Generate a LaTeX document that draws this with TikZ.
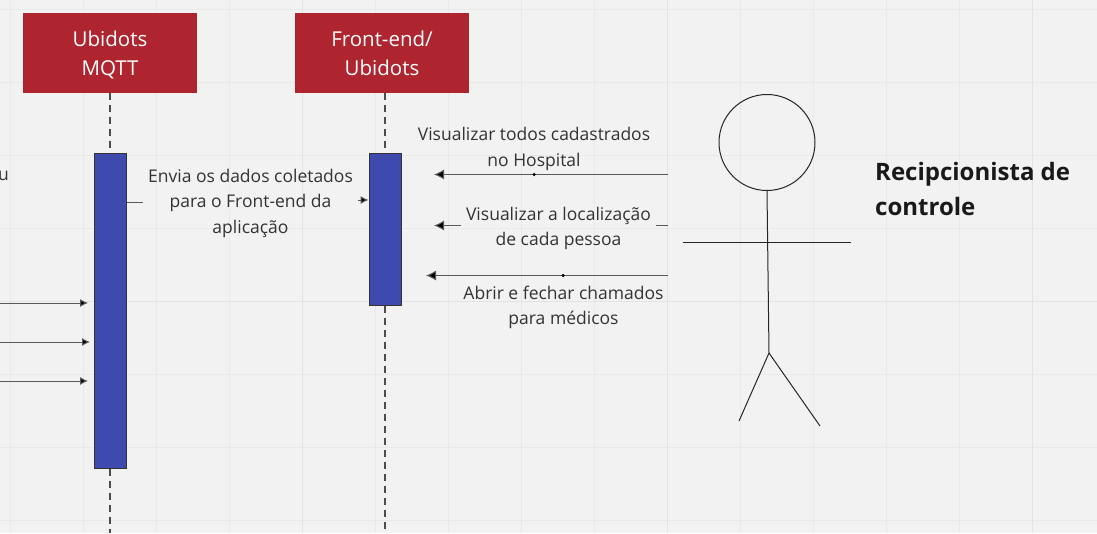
\documentclass[tikz,border=0pt]{standalone}
\usepackage{fontspec}
\setmainfont{Open Sans}
\usetikzlibrary{arrows.meta}
\definecolor{boardbg}{HTML}{F2F2F2}
\definecolor{gridline}{HTML}{E9E9E9}
\definecolor{gridbold}{HTML}{E3E3E3}
\definecolor{headred}{HTML}{AE2530}
\definecolor{barblue}{HTML}{3F4AAE}
\definecolor{labelgray}{HTML}{333333}
\newcommand{\headtext}[2]{\rule{0pt}{19pt}#1\\#2\rule[-4pt]{0pt}{4pt}}
\tikzset{
  header/.style={fill=headred, text=white, minimum width=174pt, minimum height=80pt, inner sep=0pt, align=center, font=\fontsize{20.5}{29}\selectfont},
  bar/.style={draw=black!80, fill=barblue, line width=1pt, minimum width=32pt, inner sep=0pt},
  lifeline/.style={draw=black!70, line width=1.3pt, dash pattern=on 7pt off 5pt},
  msgline/.style={draw=black!65, line width=1pt},
  msg/.style={msgline, -{Latex[length=10pt,width=10pt,fill=black]}},
  smallmsg/.style={msgline, -{Latex[length=8pt,width=8pt,fill=black]}},
  msglabel/.style={text=labelgray, align=center, inner ysep=0pt, inner xsep=5pt, font=\fontsize{17.5}{25.5}\selectfont},
  stick/.style={draw=black!85, line width=1pt},
  dot/.style={circle, fill=black, minimum size=3.5pt, inner sep=0pt}
}
\begin{document}
\begin{tikzpicture}[x=1pt, y=-1pt]
  \useasboundingbox (0,0) rectangle (1097,533);
  \fill[boardbg] (0,0) rectangle (1097,533);
  % board grid
  \foreach \gx in {10.5,83.5,156.5,229.5,375.5,448.5,521.5,594.5,740.5,813.5,886.5,959.5} \draw[gridline, line width=1pt] (\gx,0) -- (\gx,533);
  \foreach \gy in {9.5,82.5,155.5,228.5,374.5,447.5,520.5} \draw[gridline, line width=1pt] (0,\gy) -- (1097,\gy);
  \foreach \gx in {302.5,667.5,1032.5} \draw[gridbold, line width=1pt] (\gx,0) -- (\gx,533);
  \draw[gridbold, line width=1pt] (0,301.5) -- (1097,301.5);

  \node[header] (ubidots) at (110,53) {\headtext{Ubidots}{MQTT}};
  \node[header] (frontend) at (382,53) {\headtext{Front-end/}{Ubidots}};
  \node[bar, minimum height=315pt] (barubidots) at (110,310.5) {};
  \node[bar, minimum height=152pt] (barfrontend) at (385,229) {};

  % lifelines
  \coordinate (endubidots) at (110,533);
  \coordinate (endfrontend) at (385,533);
  \draw[lifeline] (110,93) -- (barubidots.north);
  \draw[lifeline] (barubidots.south) -- (endubidots);
  \draw[lifeline] (385,93) -- (barfrontend.north);
  \draw[lifeline] (barfrontend.south) -- (endfrontend);

  % left messages, cut by the frame
  \node[msglabel, anchor=west, inner xsep=0pt] (cutlabel) at (-2,176) {u};
  \coordinate (ina) at (0,303); \coordinate (inb) at (0,342); \coordinate (inc) at (0,381);
  \coordinate (ina-end) at (88,303); \coordinate (inb-end) at (90,342); \coordinate (inc-end) at (88,381);
  \draw[smallmsg] (ina) -- (ina-end);
  \draw[smallmsg] (inb) -- (inb-end);
  \draw[smallmsg] (inc) -- (inc-end);

  % from Ubidots to the front-end
  \node[msglabel] (sendlabel) at (250.5,203) {Envia os dados coletados\\para o Front-end da\\aplicação};
  \coordinate (sendstart) at (barubidots.east |- 0,202);
  \coordinate (sendend) at (barfrontend.west |- 0,200);
  \draw[msgline] (sendstart) -- (sendlabel.west |- sendstart);
  \draw[smallmsg] (sendlabel.east |- sendend) -- (sendend);

  % stick figure
  \node[stick, draw, circle, minimum size=96pt, inner sep=0pt] (head) at (767,142.5) {};
  \coordinate (hip) at (769,353);
  \coordinate (armleft) at (683,242.5); \coordinate (armright) at (851,242.5);
  \coordinate (footleft) at (739,421); \coordinate (footright) at (820,426);
  \draw[stick] (head.south) -- (hip);
  \draw[stick] (armleft) -- (armright);
  \draw[stick] (hip) -- (footleft);
  \draw[stick] (hip) -- (footright);
  \node[anchor=north west, align=left, inner sep=0pt, text=black!90, font=\fontsize{24}{35}\selectfont\bfseries] (actor) at (875,162.5) {Recipcionista de\\controle};

  % from the actor to the front-end
  \node[msglabel] (labela) at (534,149) {Visualizar todos cadastrados\\no Hospital};
  \node[msglabel] (labelb) at (558.5,228.5) {Visualizar a localização\\de cada pessoa};
  \node[msglabel] (labelc) at (563.5,307.5) {Abrir e fechar chamados\\para médicos};
  \coordinate (starta) at (668,174.5); \coordinate (enda) at (434,174.5);
  \coordinate (startb) at (668,225.5); \coordinate (endb) at (434,225.5);
  \coordinate (startc) at (668,275.5); \coordinate (endc) at (426,275.5);
  \draw[msg] (starta) -- (enda);
  \draw[msgline] (startb) -- (labelb.east |- startb);
  \draw[msg] (labelb.west |- endb) -- (endb);
  \draw[msg] (startc) -- (endc);
  \node[dot] (dota) at (534,174.5) {};
  \node[dot] (dotc) at (563,275.5) {};
\end{tikzpicture}
\end{document}
